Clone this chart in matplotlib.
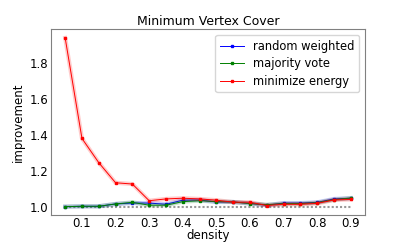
import numpy as np
import matplotlib
matplotlib.use('Agg')
import matplotlib.pyplot as plt

density = [0.05, 0.1, 0.15, 0.2, 0.25, 0.3, 0.35, 0.4, 0.45,
           0.5, 0.55, 0.6, 0.65, 0.7, 0.75, 0.8, 0.85, 0.9]

random_weighted = [1.0, 1.002, 1.002, 1.015, 1.02, 1.02, 1.013, 1.036, 1.037,
                   1.026, 1.026, 1.018, 1.008, 1.02, 1.02, 1.024, 1.043, 1.047]
majority_vote = [1.0, 1.002, 1.002, 1.015, 1.024, 1.008, 1.008, 1.028, 1.033,
                 1.028, 1.026, 1.017, 1.011, 1.017, 1.017, 1.022, 1.039, 1.048]
minimize_energy = [1.94, 1.38, 1.245, 1.133, 1.126, 1.033, 1.043, 1.047, 1.043,
                   1.036, 1.025, 1.025, 1.006, 1.013, 1.013, 1.018, 1.037, 1.04]

series = [
    ('random weighted', random_weighted, 'blue'),
    ('majority vote', majority_vote, 'green'),
    ('minimize energy', minimize_energy, 'red'),
]

fig = plt.figure(figsize=(4.07, 2.44), dpi=100)
ax = fig.add_axes([0.125, 0.12, 0.772, 0.76])

# baseline at 1.0
ax.plot(density, [1.0] * len(density), color='#999999', lw=1.5,
        linestyle=(0, (1, 1)))

for name, vals, col in series:
    ax.plot(density, vals, color=col, lw=3, alpha=0.2)
    ax.plot(density, vals, color=col, lw=0.7, marker='s', ms=1.5, label=name)

ax.set_xlim(0.0075, 0.9425)
ax.set_ylim(0.955, 1.988)
ax.set_xticks([0.1, 0.2, 0.3, 0.4, 0.5, 0.6, 0.7, 0.8, 0.9])
ax.set_yticks([1.0, 1.2, 1.4, 1.6, 1.8])
ax.tick_params(length=0, labelsize=8.5, pad=2)
for s in ax.spines.values():
    s.set_color('#808080')

ax.set_title('Minimum Vertex Cover', fontsize=9, pad=3)
ax.set_xlabel('density', fontsize=8.5, labelpad=-1)
ax.set_ylabel('improvement', fontsize=8.5, labelpad=3)
ax.legend(fontsize=8.3, loc='upper right', handlelength=2.1, borderpad=0.4,
          labelspacing=0.4, fancybox=True)

fig.savefig('out.png', dpi=100)
